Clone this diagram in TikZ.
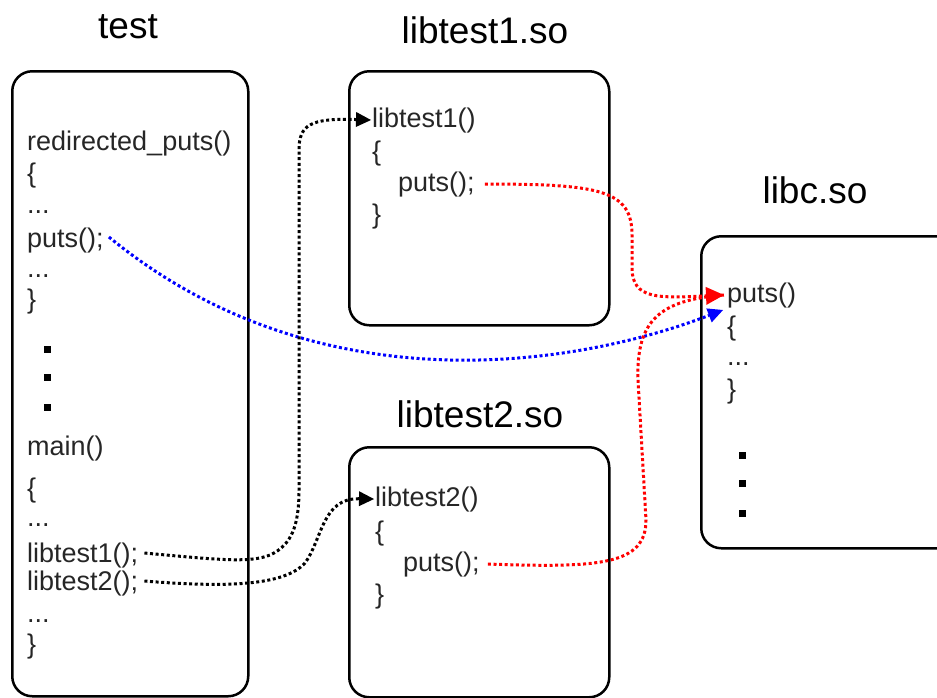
\documentclass[tikz,border=0pt]{standalone}
\usepackage{fontspec}
\setmainfont{Liberation Sans}
\usetikzlibrary{arrows.meta,calc}

\begin{document}
\begin{tikzpicture}[x=1pt,y=-1pt,
  panel/.style={draw=black,line width=2.5pt,rounded corners=20pt,anchor=north west,inner sep=0pt},
  title/.style={anchor=base,inner sep=0pt,font=\fontsize{37}{40}\selectfont},
  code/.style={anchor=base west,inner sep=0pt,text=black!85,font=\fontsize{27}{30}\selectfont},
  sq/.style={fill=black,minimum size=7pt,inner sep=0pt},
  link/.style={line width=3pt,dash pattern=on 3pt off 2.6pt},
  tip/.style={-{Triangle[length=#1,width=#1,line width=0pt]}},
  tip/.default=15pt
]
\clip (0,0) rectangle (937,697);

% module boxes
\node[panel,minimum width=236pt,minimum height=625pt] (testbox) at (11,70) {};
\node[panel,minimum width=260pt,minimum height=254pt] (lib1box) at (348,70) {};
\node[panel,minimum width=260pt,minimum height=250pt] (lib2box) at (348,446) {};
\node[panel,minimum width=280pt,minimum height=312pt] (libcbox) at (700,235) {};

% titles
\node[title] (ttest) at (128,38) {test};
\node[title] (tlib1) at (485,43) {libtest1.so};
\node[title] (tlib2) at (480,427) {libtest2.so};
\node[title] (tlibc) at (815,203) {libc.so};

% code in test
\node[code] (rdef)  at (27,150) {redirected\_puts()};
\node[code] (rob)   at (27,182) {\{};
\node[code] (rd1)   at (27,213) {...};
\node[code] (tputs) at (27,247) {puts();};
\node[code] (rd2)   at (27,277) {...};
\node[code] (rcb)   at (27,308) {\}};
\node[sq] (ts1) at (47,349) {};
\node[sq] (ts2) at (47,377) {};
\node[sq] (ts3) at (47,407) {};
\node[code] (mdef)  at (27,455) {main()};
\node[code] (mob)   at (27,497) {\{};
\node[code] (md1)   at (27,526) {...};
\node[code] (l1call) at (27,562) {libtest1();};
\node[code] (l2call) at (27,590) {libtest2();};
\node[code] (md2)   at (27,622) {...};
\node[code] (mcb)   at (27,653) {\}};

% code in libtest1.so
\node[code] (l1def) at (372,127) {libtest1()};
\node[code] (l1ob)  at (372,160) {\{};
\node[code] (p1)    at (398,191) {puts();};
\node[code] (l1cb)  at (372,223) {\}};

% code in libtest2.so
\node[code] (l2def) at (375,506) {libtest2()};
\node[code] (l2ob)  at (375,540) {\{};
\node[code] (p2)    at (403,571) {puts();};
\node[code] (l2cb)  at (375,603) {\}};

% code in libc.so
\node[code] (cputs) at (727,302) {puts()};
\node[code] (cob)   at (727,335) {\{};
\node[code] (cd1)   at (727,365) {...};
\node[code] (ccb)   at (727,398) {\}};
\node[sq] (cs1) at (742,455) {};
\node[sq] (cs2) at (742,483) {};
\node[sq] (cs3) at (742,513) {};

% connector ends
\coordinate (cin1) at ([xshift=-3pt]cputs.west);
\coordinate (cin2) at ([xshift=-4pt,yshift=-15pt]cputs.west);
\coordinate (l1in) at ([xshift=-1pt]l1def.west);
\coordinate (l2in) at ([xshift=-1pt]l2def.west);

% calls
\draw[link,blue,tip=15pt] ([xshift=5pt,yshift=3pt]tputs.east)
  .. controls (320,410) and (580,365) .. (cin2);
\draw[link,black,tip=15pt] ([xshift=6pt,yshift=2pt]l1call.east)
  .. controls (220,560) and (250,563) .. (270,555)
  .. controls (292,545) and (299,525) .. (299,490) -- (299,150)
  .. controls (299,125) and (310,118) .. (l1in);
\draw[link,black,tip=15pt] ([xshift=6pt,yshift=2pt]l2call.east)
  .. controls (230,588) and (285,585) .. (305,563)
  .. controls (322,540) and (322,498) .. (l2in);
\draw[link,red] ([xshift=8pt]p2.east)
  .. controls (600,568) and (646,565) .. (646,520) -- (638,380)
  .. controls (636,320) and (660,300) .. (cin1);
\draw[link,red,tip=18pt] ([xshift=10pt]p1.east)
  .. controls (600,184) and (632,190) .. (632,235) -- (632,268)
  .. controls (632,300) and (660,298) .. (cin1);
\end{tikzpicture}
\end{document}
